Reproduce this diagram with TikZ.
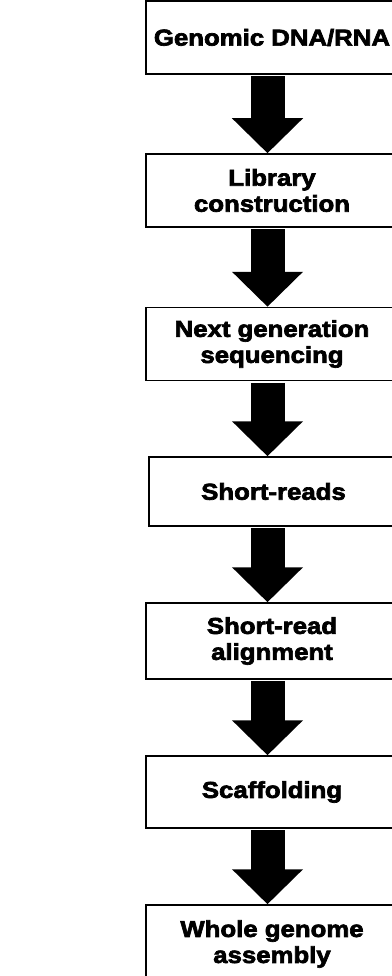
\documentclass[tikz,border=0pt]{standalone}
\usepackage{fontspec}
\usetikzlibrary{arrows.meta}
\newfontfamily\boxfont[FakeStretch=1.12,FakeBold=3]{Liberation Sans Bold}

\tikzset{
  stagebox/.style={draw=black, line width=1.5pt, fill=white, rectangle,
    minimum width=252pt, minimum height=73pt, inner sep=0pt,
    align=center, font=\boxfont\fontsize{23pt}{26pt}\selectfont},
  fatarrow/.style={line width=34pt, draw=black,
    -{Triangle[width=69pt,length=35pt]}, shorten <=1.5pt},
}

\begin{document}
\begin{tikzpicture}[x=1pt,y=-1pt]
  \useasboundingbox (0,0) rectangle (391,976);

  % processing stages, top to bottom
  \node[stagebox] (b1) at (272,37.5)  {Genomic DNA/RNA};
  \node[stagebox] (b2) at (272,190.5) {Library\\construction};
  \node[stagebox] (b3) at (272,344)   {Next generation\\sequencing};
  \node[stagebox, minimum width=249pt, minimum height=69pt] (b4) at (273.5,491.5) {Short-reads};
  \node[stagebox, minimum height=76pt] (b5) at (272,641) {Short-read\\alignment};
  \node[stagebox, minimum height=72pt] (b6) at (272,792) {Scaffolding};
  \node[stagebox, minimum height=78pt] (b7) at (272,944) {Whole genome\\assembly};

  % column on which the arrows run
  \coordinate (ax) at (267.5,0);

  \foreach \a/\b in {b1/b2,b2/b3,b3/b4,b4/b5,b5/b6,b6/b7}
    \draw[fatarrow] (\a.south -| ax) -- (\b.north -| ax);
\end{tikzpicture}
\end{document}
